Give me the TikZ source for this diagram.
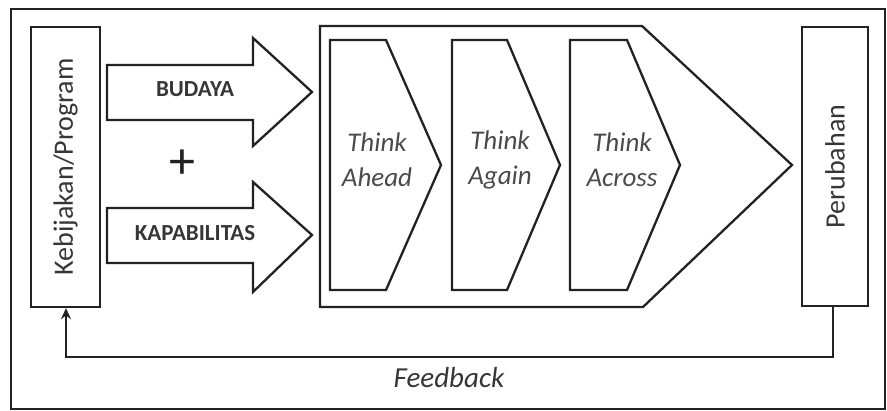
\documentclass[tikz,border=0pt]{standalone}
\usepackage{fontspec}
\setmainfont{Carlito}
\usetikzlibrary{arrows.meta}
\definecolor{ln}{HTML}{222222}
\definecolor{tx}{HTML}{363636}
\definecolor{tg}{HTML}{4A4A4A}
\tikzset{
  shape line/.style={draw=ln, line width=2.3pt, line join=miter},
  sidebox/.style={draw=ln, line width=2.3pt, rotate=90, inner sep=0pt, text=tx, font=\fontsize{28}{30}\selectfont},
  arrowlabel/.style={text=tx, font=\bfseries\fontsize{23}{25}\selectfont},
  thinklabel/.style={text=tg, align=center, font=\itshape\fontsize{27}{35}\selectfont},
}
\begin{document}
\begin{tikzpicture}[x=1pt,y=1pt]
\useasboundingbox (0,0) rectangle (887,411);
% outer frame
\draw[draw=ln, line width=2.3pt] (11,2) rectangle (885,402);
% side boxes
\node[sidebox, minimum width=280pt, minimum height=69pt] (keb) at (65.5,244) {Kebijakan/Program};
\node[sidebox, minimum width=279pt, minimum height=66pt] (per) at (835,244.5) {Perubahan};
% input arrows
\draw[shape line] (107,346) -- (253,346) -- (253,373) -- (312,319) -- (253,265) -- (253,291) -- (107,291) -- cycle;
\node[arrowlabel] (bud) at (195,322) {BUDAYA};
\node[font=\fontsize{52}{52}\selectfont, text=ln] (plus) at (182,247) {+};
\draw[shape line] (107,203) -- (253,203) -- (253,229) -- (312,176) -- (253,119) -- (253,148) -- (107,148) -- cycle;
\node[arrowlabel] (kap) at (195,178) {KAPABILITAS};
% big pentagon
\draw[shape line] (320,385) -- (642,385) -- (792,246) -- (643,104) -- (320,104) -- cycle;
% chevrons
\draw[shape line] (330,371) -- (386,371) -- (441,246) -- (386,121) -- (330,121) -- cycle;
\draw[shape line] (452,371) -- (507,371) -- (560,246) -- (507,121) -- (452,121) -- cycle;
\draw[shape line] (570,371) -- (627,371) -- (680,246) -- (627,121) -- (570,121) -- cycle;
\node[thinklabel] (ahead) at (377,251) {Think\\Ahead};
\node[thinklabel] (again) at (500,251) {Think\\Again};
\node[thinklabel] (across) at (622,251) {Think\\Across};
% feedback
\coordinate (fbR) at (833,54);
\coordinate (fbL) at (66,54);
\draw[draw=ln, line width=2.3pt, -{Stealth[length=11pt,width=10pt]}] (per.west -| fbR) -- (fbR) -- (fbL) -- (keb.west -| fbL);
\node[text=tx, font=\itshape\fontsize{29}{30}\selectfont] (fb) at (449,33) {Feedback};
\end{tikzpicture}
\end{document}
